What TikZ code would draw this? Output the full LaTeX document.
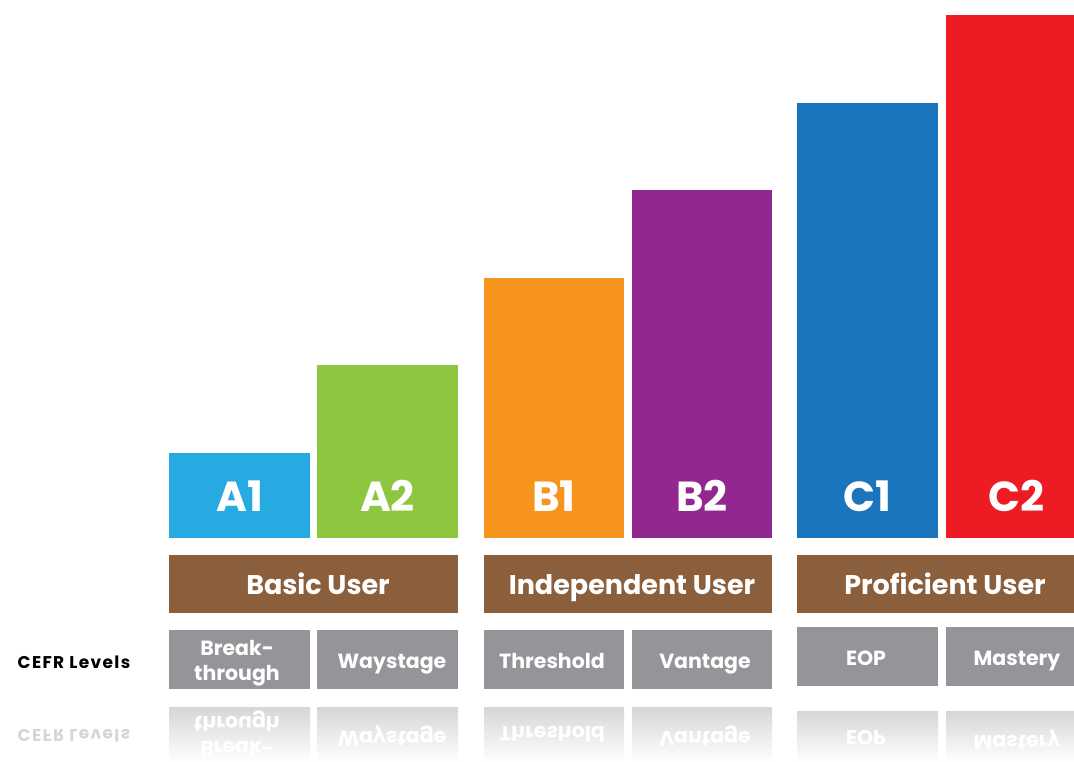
\documentclass[tikz,border=0pt]{standalone}
\usepackage{fontspec}
\setmainfont{Poppins}
\definecolor{ca1}{HTML}{27A9E1}
\definecolor{ca2}{HTML}{8DC63F}
\definecolor{cb1}{HTML}{F7941D}
\definecolor{cb2}{HTML}{92278F}
\definecolor{cc1}{HTML}{1B75BC}
\definecolor{cc2}{HTML}{ED1C24}
\definecolor{brownc}{HTML}{8B5E3C}
\definecolor{greyc}{HTML}{939598}
\definecolor{reflc}{HTML}{D6D6D8}
\newcommand{\namefont}{\bfseries\fontsize{20.5}{25}\selectfont}
\tikzset{
  bar/.style={draw=none, inner sep=0pt, outer sep=0pt, anchor=north west, minimum height=#1},
  lvl/.style={text=white, inner sep=0pt, anchor=base, font=\bfseries\fontsize{42}{42}\selectfont},
  grp/.style={fill=brownc, draw=none, inner sep=0pt, outer sep=0pt, anchor=north west, minimum height=58pt},
  grptext/.style={text=white, inner sep=0pt, anchor=base, font=\bfseries\fontsize{27}{27}\selectfont},
  namebox/.style={fill=greyc, draw=none, inner sep=0pt, outer sep=0pt, anchor=north west, minimum height=59pt},
  nametext/.style={text=white, inner sep=0pt, anchor=base, font=\namefont},
  reflbox/.style={top color=reflc, bottom color=white, draw=none, inner sep=0pt, outer sep=0pt,
    anchor=north west, minimum height=#1},
  refltext/.style={text=white, inner sep=0pt, font=\namefont},
  cefr/.style={inner sep=0pt, font=\bfseries\fontsize{17}{17}\selectfont\addfontfeature{LetterSpace=8}}
}
\begin{document}
\begin{tikzpicture}[x=1pt, y=-1pt]
\useasboundingbox (0,0) rectangle (1074,762);
% bars
\node[bar=85pt,  minimum width=141pt, fill=ca1] (a1) at (169,453) {};
\node[bar=173pt, minimum width=141pt, fill=ca2] (a2) at (317,365) {};
\node[bar=260pt, minimum width=140pt, fill=cb1] (b1) at (484,278) {};
\node[bar=348pt, minimum width=140pt, fill=cb2] (b2) at (632,190) {};
\node[bar=435pt, minimum width=141pt, fill=cc1] (c1) at (797,103) {};
\node[bar=523pt, minimum width=128pt, fill=cc2] (c2) at (946,15) {};
% level labels
\node[lvl] (ta1) at (239.5,511) {A1};
\node[lvl] (ta2) at (387.5,511) {A2};
\node[lvl] (tb1) at (554,511) {B1};
\node[lvl] (tb2) at (702,511) {B2};
\node[lvl] (tc1) at (867.5,511) {C1};
\node[lvl] (tc2) at (1016,511) {C2};
% group bars
\node[grp, minimum width=289pt] (basic) at (169,555) {};
\node[grp, minimum width=288pt] (indep) at (484,555) {};
\node[grp, minimum width=277pt] (prof) at (797,555) {};
\node[grptext] (tbasic) at (318,594) {Basic User};
\node[grptext] (tindep) at (632,594) {Independent User};
\node[grptext] (tprof) at (945,594) {Proficient User};
% names
\node[cefr, anchor=base] (cefrl) at (74,668) {CEFR Levels};
\node[namebox, minimum width=141pt] (n1) at (169,630) {};
\node[namebox, minimum width=141pt] (n2) at (317,630) {};
\node[namebox, minimum width=140pt] (n3) at (484,630) {};
\node[namebox, minimum width=140pt] (n4) at (632,630) {};
\node[namebox, minimum width=141pt] (n5) at (797,627) {};
\node[namebox, minimum width=128pt] (n6) at (946,627) {};
\node[nametext] (t1) at (237,655) {\begin{tabular}[t]{@{}c@{}}Break-\\through\end{tabular}};
\node[nametext] (t2) at (392,668) {Waystage};
\node[nametext] (t3) at (552,668) {Threshold};
\node[nametext] (t4) at (705,668) {Vantage};
\node[nametext] (t5) at (866,665) {EOP};
\node[nametext] (t6) at (1017,665) {Mastery};
% reflections
\node[reflbox=55pt, minimum width=141pt] (r1) at (169,707) {};
\node[reflbox=55pt, minimum width=141pt] (r2) at (317,707) {};
\node[reflbox=55pt, minimum width=140pt] (r3) at (484,707) {};
\node[reflbox=55pt, minimum width=140pt] (r4) at (632,707) {};
\node[reflbox=51pt, minimum width=141pt] (r5) at (797,711) {};
\node[reflbox=51pt, minimum width=128pt] (r6) at (946,711) {};
\node[cefr, text=reflc] (rcefr) at (74,736) {\scalebox{1}[-1]{CEFR Levels}};
\node[refltext] (rt1) at (237,734) {\scalebox{1}[-1]{\begin{tabular}{@{}c@{}}Break-\\through\end{tabular}}};
\node[refltext] (rt2) at (392,736) {\scalebox{1}[-1]{Waystage}};
\node[refltext] (rt3) at (552,734) {\scalebox{1}[-1]{Threshold}};
\node[refltext] (rt4) at (705,736) {\scalebox{1}[-1]{Vantage}};
\node[refltext] (rt5) at (866,738) {\scalebox{1}[-1]{EOP}};
\node[refltext] (rt6) at (1017,740) {\scalebox{1}[-1]{Mastery}};
\end{tikzpicture}
\end{document}
